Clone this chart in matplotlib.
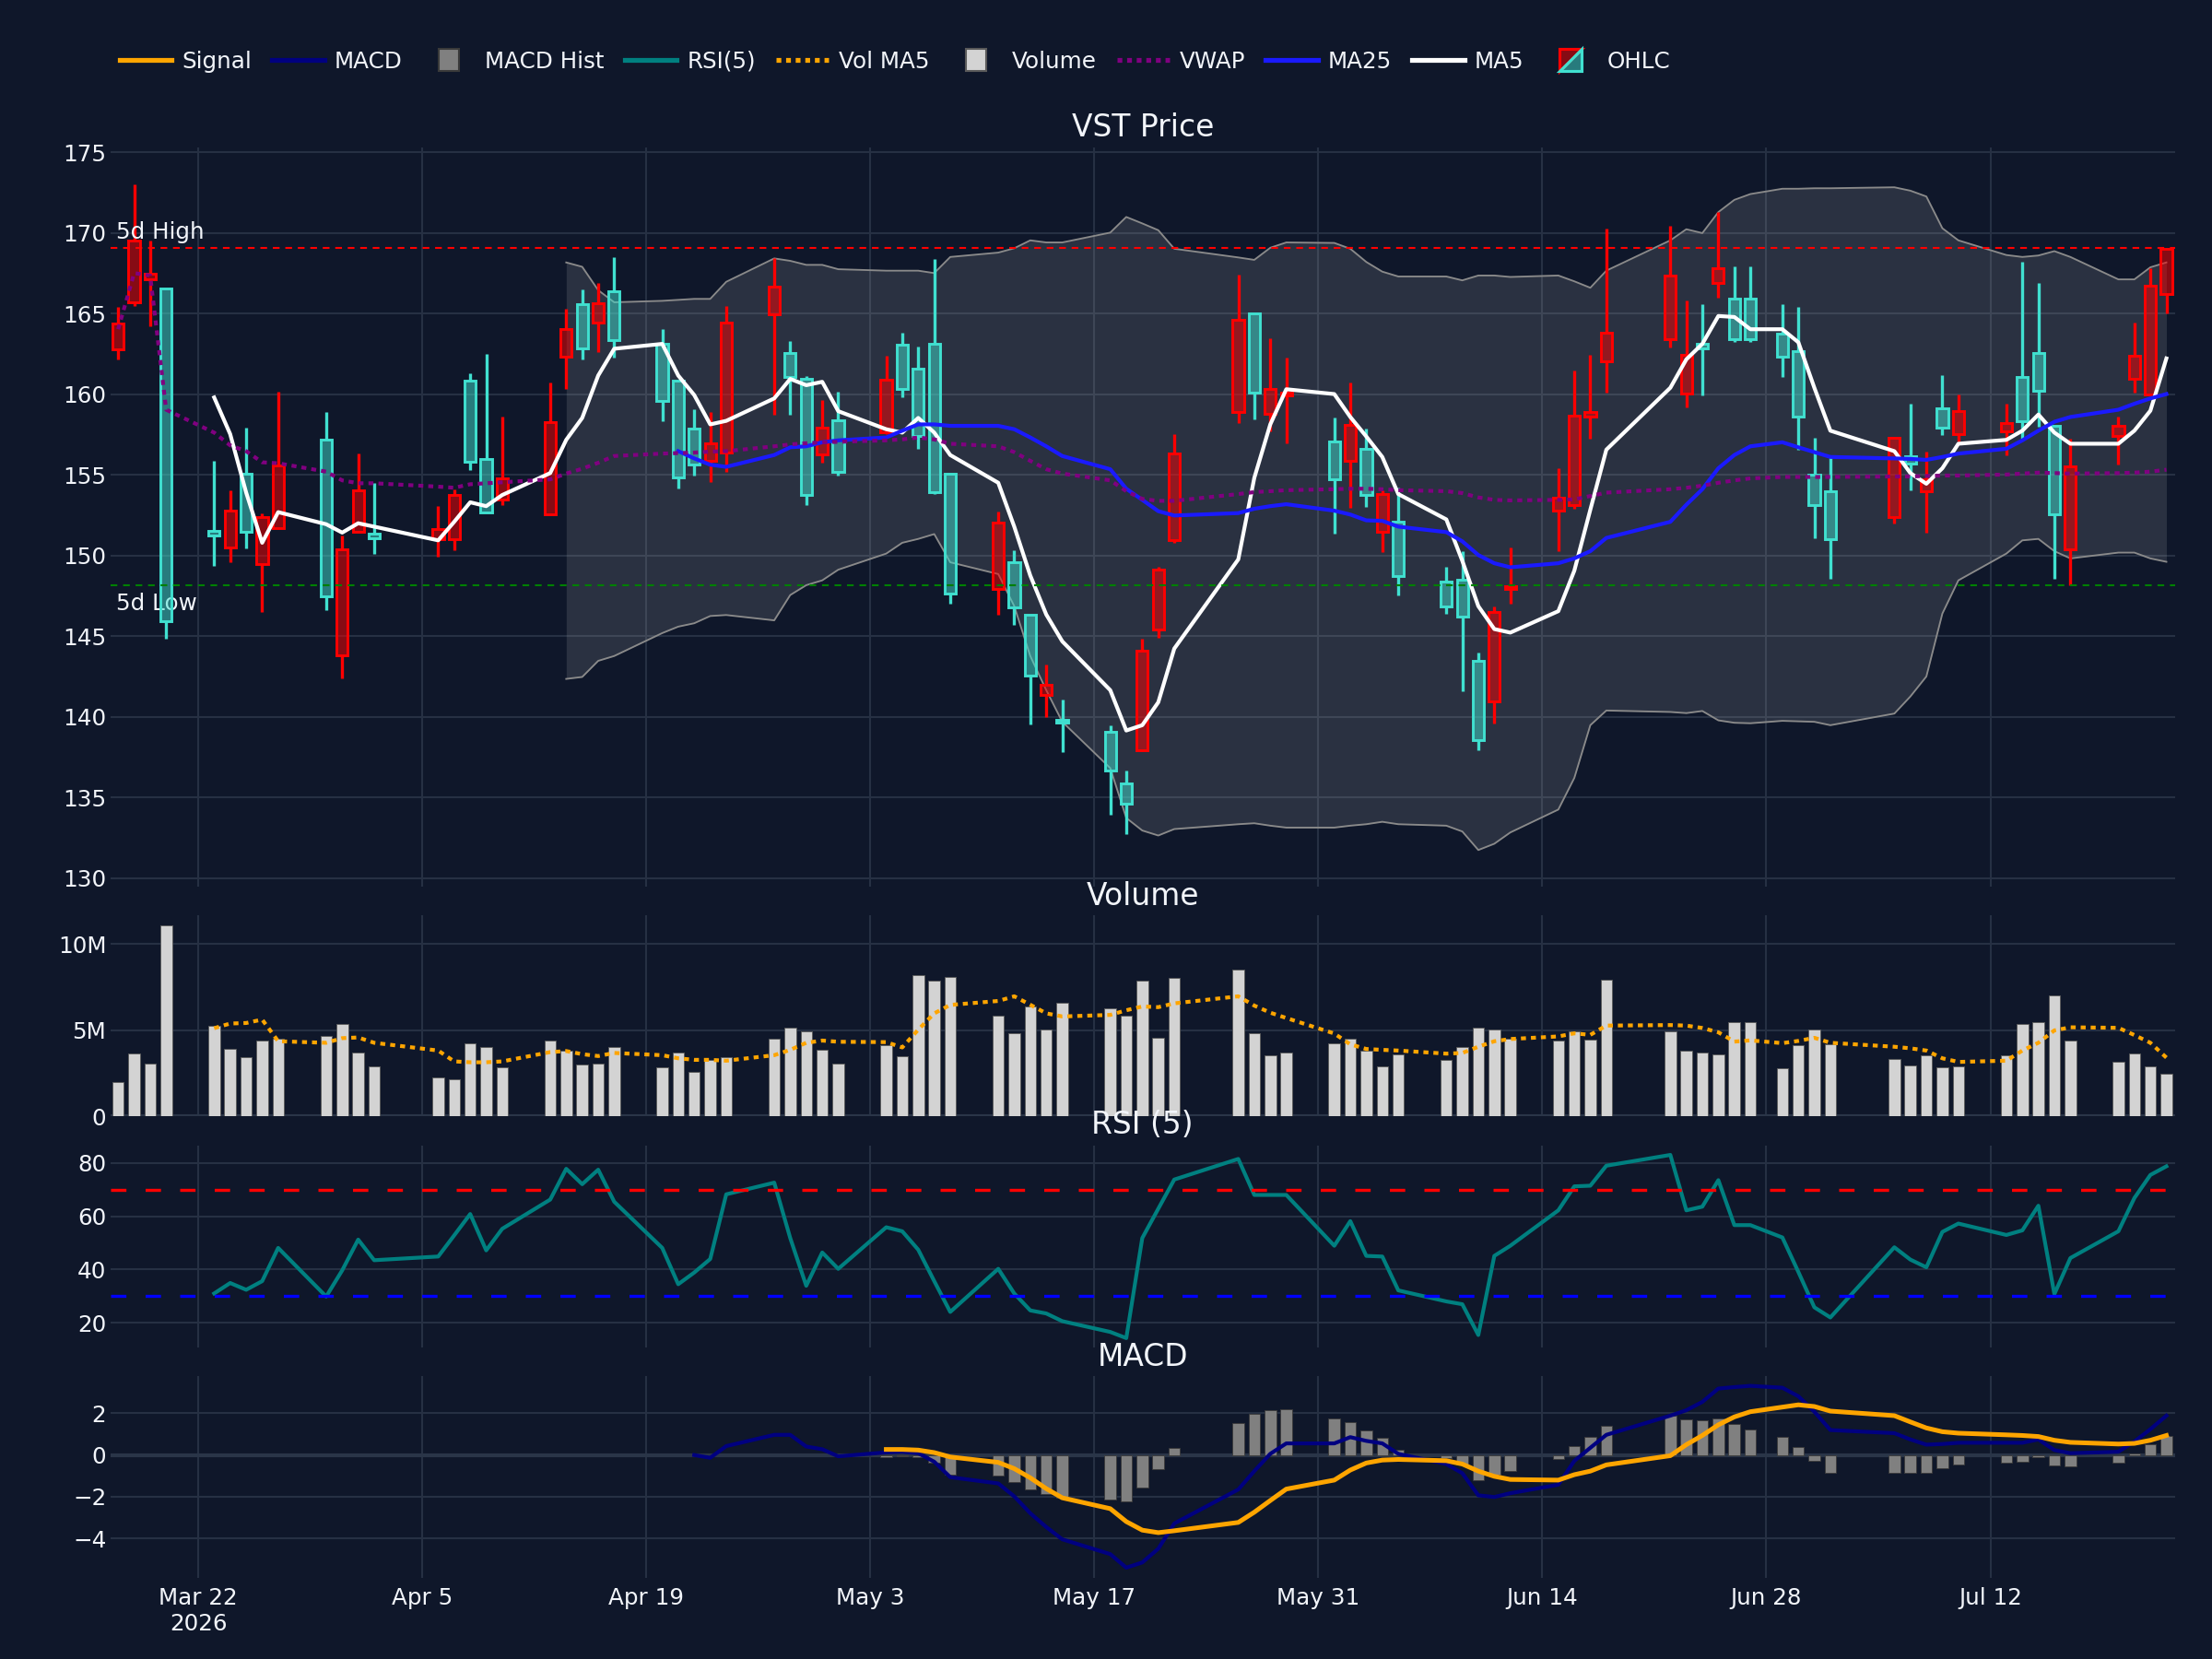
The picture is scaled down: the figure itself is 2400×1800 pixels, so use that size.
import numpy as np
import pandas as pd
import matplotlib
matplotlib.use("Agg")
import matplotlib.pyplot as plt
import matplotlib.dates as mdates
from matplotlib.colors import to_rgba
from matplotlib.patches import Rectangle, Polygon, Patch
from matplotlib.lines import Line2D
from matplotlib.legend_handler import HandlerBase

plt.rcParams["font.family"] = ["DejaVu Sans"]

BG = "#0f172a"
GRID = "#263043"
TXT = "#f2f5fa"
UP = "#ff0000"
DOWN = "#40e0d0"
FS = 11.8

# trading days shown on the chart
dates = pd.to_datetime([
    "2026-03-17", "2026-03-18", "2026-03-19", "2026-03-20",
    "2026-03-23", "2026-03-24", "2026-03-25", "2026-03-26", "2026-03-27",
    "2026-03-30", "2026-03-31", "2026-04-01", "2026-04-02",
    "2026-04-06", "2026-04-07", "2026-04-08", "2026-04-09", "2026-04-10",
    "2026-04-13", "2026-04-14", "2026-04-15", "2026-04-16", "2026-04-17",
    "2026-04-20", "2026-04-21", "2026-04-22", "2026-04-23", "2026-04-24",
    "2026-04-27", "2026-04-28", "2026-04-29", "2026-04-30", "2026-05-01",
    "2026-05-04", "2026-05-05", "2026-05-06", "2026-05-07", "2026-05-08",
    "2026-05-11", "2026-05-12", "2026-05-13", "2026-05-14", "2026-05-15",
    "2026-05-18", "2026-05-19", "2026-05-20", "2026-05-21", "2026-05-22",
    "2026-05-26", "2026-05-27", "2026-05-28", "2026-05-29",
    "2026-06-01", "2026-06-02", "2026-06-03", "2026-06-04", "2026-06-05",
    "2026-06-08", "2026-06-09", "2026-06-10", "2026-06-11", "2026-06-12",
    "2026-06-15", "2026-06-16", "2026-06-17", "2026-06-18",
    "2026-06-22", "2026-06-23", "2026-06-24", "2026-06-25", "2026-06-26", "2026-06-27",
    "2026-06-29", "2026-06-30", "2026-07-01", "2026-07-02",
    "2026-07-06", "2026-07-07", "2026-07-08", "2026-07-09", "2026-07-10",
    "2026-07-13", "2026-07-14", "2026-07-15", "2026-07-16", "2026-07-17",
    "2026-07-20", "2026-07-21", "2026-07-22", "2026-07-23",
])

opens = [162.75, 165.69, 167.11, 166.53,
         151.53, 150.48, 155.07, 149.45, 151.68,
         157.19, 143.82, 151.44, 151.32,
         151.02, 151.02, 160.82, 155.95, 153.44,
         152.56, 162.33, 165.59, 164.45, 166.35,
         163.11, 160.85, 157.88, 155.86, 156.37,
         164.93, 162.57, 160.94, 156.25, 158.37,
         157.61, 163.08, 161.57, 163.11, 155.04,
         147.93, 149.57, 146.33, 141.34, 139.83,
         139.04, 135.87, 137.92, 145.42, 150.93,
         158.88, 165.02, 158.79, 159.94,
         157.07, 155.86, 156.58, 151.47, 152.08,
         148.39, 148.48, 143.46, 140.95, 147.90,
         152.77, 153.14, 158.58, 162.06,
         163.42, 160.03, 163.11, 166.89, 165.90, 165.90,
         163.72, 162.66, 155.01, 153.98,
         152.38, 156.16, 153.95, 159.09, 157.52,
         157.67, 161.06, 162.57, 158.03, 150.35,
         157.43, 160.94, 160.00, 166.23]
highs = [165.41, 173.00, 169.53, 166.53,
         155.86, 154.04, 157.94, 152.62, 160.15,
         158.88, 151.23, 156.31, 154.50,
         153.05, 154.10, 161.27, 162.48, 158.58,
         160.70, 165.29, 166.50, 166.89, 168.47,
         164.02, 160.85, 159.06, 158.88, 165.44,
         168.41, 163.30, 161.09, 159.61, 160.12,
         162.36, 163.78, 162.96, 168.38, 155.04,
         152.71, 150.29, 146.33, 143.25, 141.04,
         139.47, 136.66, 144.82, 149.26, 157.52,
         167.41, 165.02, 163.48, 162.27,
         158.55, 160.73, 157.88, 154.04, 154.19,
         149.26, 150.26, 143.97, 146.85, 150.48,
         155.43, 161.45, 162.42, 170.28,
         170.46, 165.78, 165.59, 171.28, 167.89, 167.89,
         165.59, 165.38, 157.28, 156.22,
         157.28, 159.40, 156.46, 161.15, 160.00,
         159.40, 168.20, 166.89, 158.03, 157.22,
         158.58, 164.42, 167.80, 169.07]
lows = [162.15, 165.47, 164.23, 144.82,
        149.36, 149.57, 150.42, 146.51, 151.68,
        146.63, 142.37, 151.44, 150.11,
        149.93, 150.32, 155.31, 152.68, 153.14,
        152.56, 160.33, 162.15, 162.63, 162.27,
        158.34, 154.13, 154.95, 154.56, 155.16,
        158.73, 158.73, 153.11, 155.74, 154.95,
        157.50, 159.82, 156.61, 153.80, 147.03,
        146.33, 145.70, 139.53, 139.95, 137.83,
        133.90, 132.69, 137.87, 144.91, 150.78,
        158.22, 158.43, 157.67, 156.92,
        151.35, 152.92, 152.98, 150.20, 147.51,
        146.39, 141.55, 137.92, 139.59, 147.03,
        150.26, 152.89, 157.22, 160.09,
        162.90, 159.18, 159.94, 165.99, 163.21, 163.21,
        161.06, 156.52, 151.08, 148.54,
        151.99, 154.04, 151.38, 157.46, 157.07,
        156.22, 157.22, 157.97, 148.54, 148.15,
        155.62, 160.09, 160.00, 165.02]
closes = [164.39, 169.53, 167.44, 145.91,
          151.23, 152.80, 151.44, 152.35, 155.56,
          147.45, 150.35, 154.01, 151.08,
          151.62, 153.74, 155.80, 152.68, 154.80,
          158.25, 164.05, 162.81, 165.62, 163.33,
          159.55, 154.83, 155.65, 156.92, 164.42,
          166.65, 161.06, 153.74, 157.91, 155.16,
          160.91, 160.30, 157.40, 153.89, 147.63,
          152.05, 146.79, 142.55, 141.95, 139.65,
          136.65, 134.60, 144.06, 149.14, 156.31,
          164.63, 160.09, 160.30, 160.09,
          154.71, 158.07, 153.74, 153.80, 148.69,
          146.85, 146.18, 138.53, 146.48, 148.06,
          153.59, 158.67, 158.88, 163.78,
          167.35, 162.45, 162.81, 167.80, 163.42, 163.42,
          162.30, 158.58, 153.14, 151.02,
          157.28, 155.70, 154.71, 157.91, 158.94,
          158.19, 158.34, 160.18, 152.53, 155.50,
          158.03, 162.36, 166.74, 169.01]

# overlays (they begin later than the candles)
ma5 = [159.79, 157.52, 153.89, 150.78, 152.68,
       151.93, 151.41, 151.99, 151.78,
       150.93, 152.08, 153.29, 153.05, 153.74,
       155.10, 157.16, 158.52, 161.15, 162.81,
       163.11, 161.15, 159.94, 158.12, 158.34,
       159.73, 160.94, 160.55, 160.76, 158.94,
       157.82, 157.61, 158.52, 157.61, 156.22,
       154.50, 151.78, 148.75, 146.33, 144.67,
       141.64, 139.14, 139.47, 140.89, 144.22,
       149.75, 154.80, 158.12, 160.30,
       160.00, 158.58, 157.37, 156.10, 153.80,
       152.23, 149.66, 146.85, 145.43, 145.21,
       146.54, 149.05, 152.83, 156.55,
       160.39, 162.15, 163.11, 164.84, 164.78, 164.02,
       164.02, 163.21, 160.39, 157.73,
       156.46, 155.10, 154.44, 155.40, 156.92,
       157.16, 157.73, 158.73, 157.61, 156.92,
       156.92, 157.73, 158.97, 162.21]
ma25 = [156.46, 156.01, 155.62, 155.49,
        156.22, 156.70, 156.76, 157.01, 157.13,
        157.31, 157.73, 158.12, 158.12, 158.03,
        158.03, 157.82, 157.31, 156.76, 156.16,
        155.34, 154.13, 153.44, 152.74, 152.47,
        152.62, 152.89, 153.05, 153.17,
        152.77, 152.53, 152.17, 152.14, 151.78,
        151.44, 150.87, 150.02, 149.51, 149.26,
        149.51, 149.81, 150.26, 151.08,
        152.08, 153.14, 154.10, 155.40, 156.22, 156.76,
        157.01, 156.70, 156.40, 156.10,
        156.01, 155.98, 155.92, 156.10, 156.31,
        156.61, 157.13, 157.73, 158.28, 158.58,
        159.03, 159.40, 159.73, 160.00]
bb_upper = [168.16, 167.89, 166.44, 165.69,
            165.78, 165.84, 165.90, 165.90, 166.96,
            168.41, 168.26, 168.01, 168.01, 167.74,
            167.65, 167.65, 167.65, 167.50, 168.50,
            168.77, 169.04, 169.53, 169.40, 169.40,
            170.01, 170.98, 170.58, 170.16, 169.01,
            168.47, 168.32, 169.07, 169.40,
            169.37, 169.01, 168.19, 167.59, 167.29,
            167.29, 167.05, 167.35, 167.35, 167.26,
            167.35, 166.99, 166.59, 167.65,
            169.53, 170.22, 169.98, 171.28, 172.04, 172.40,
            172.73, 172.73, 172.76, 172.76,
            172.82, 172.61, 172.25, 170.28, 169.53,
            168.62, 168.50, 168.59, 168.86, 168.50,
            167.11, 167.11, 167.86, 168.16]
bb_lower = [142.34, 142.46, 143.46, 143.76,
            145.18, 145.58, 145.79, 146.24, 146.30,
            145.97, 147.54, 148.15, 148.45, 149.11,
            150.11, 150.78, 151.02, 151.32, 149.57,
            148.84, 146.85, 143.76, 141.64, 139.68,
            136.81, 133.72, 132.94, 132.63, 133.03,
            133.33, 133.39, 133.24, 133.12,
            133.12, 133.24, 133.33, 133.48, 133.33,
            133.24, 132.88, 131.73, 132.12, 132.82,
            134.24, 136.20, 139.47, 140.38,
            140.29, 140.22, 140.35, 139.77, 139.62, 139.59,
            139.74, 139.71, 139.68, 139.47,
            140.19, 141.25, 142.49, 146.39, 148.45,
            150.11, 150.93, 151.02, 150.26, 149.81,
            150.17, 150.17, 149.81, 149.60]
vwap = [164.02, 167.50, 167.35, 159.03,
        157.61, 156.82, 156.46, 155.77, 155.71,
        155.19, 154.65, 154.47, 154.47,
        154.26, 154.19, 154.41, 154.47, 154.53,
        154.71, 155.07, 155.37, 155.74, 156.16,
        156.31, 156.34, 156.37, 156.43, 156.46,
        156.76, 156.88, 156.95, 157.01, 157.04,
        157.13, 157.19, 157.31, 157.19, 156.92,
        156.76, 156.40, 155.86, 155.34, 155.07,
        154.65, 153.98, 153.50, 153.38, 153.38,
        153.80, 153.92, 153.98, 154.04,
        154.10, 154.13, 154.13, 154.10, 154.04,
        153.98, 153.86, 153.59, 153.44, 153.41,
        153.44, 153.47, 153.68, 153.89,
        154.10, 154.19, 154.32, 154.50, 154.65, 154.77,
        154.86, 154.86, 154.86, 154.86,
        154.89, 154.89, 154.92, 154.95, 154.95,
        155.01, 155.07, 155.13, 155.10, 155.07,
        155.10, 155.13, 155.19, 155.31]
high_5d = 169.07
low_5d = 148.15

# volume in millions
volume_m = [1.98, 3.63, 3.04, 11.10,
            5.27, 3.92, 3.44, 4.37, 4.50,
            4.68, 5.36, 3.71, 2.88,
            2.23, 2.14, 4.24, 4.03, 2.82,
            4.39, 3.78, 3.02, 3.06, 4.03,
            2.84, 3.69, 2.57, 3.27, 3.42,
            4.51, 5.14, 4.93, 3.88, 3.06,
            4.14, 3.49, 8.18, 7.86, 8.06,
            5.86, 4.84, 6.35, 5.05, 6.58,
            6.28, 5.81, 7.86, 4.57, 8.02,
            8.49, 4.84, 3.53, 3.71,
            4.24, 4.48, 3.81, 2.90, 3.60,
            3.26, 3.99, 5.14, 5.05, 4.50,
            4.40, 4.90, 4.44, 7.93,
            4.92, 3.81, 3.67, 3.58, 5.44, 5.44,
            2.76, 4.14, 5.04, 4.19,
            3.31, 2.93, 3.53, 2.82, 2.90,
            3.53, 5.36, 5.45, 7.03, 4.37,
            3.17, 3.65, 2.88, 2.45]
vol_ma5_m = [5.11, 5.38, 5.41, 5.61, 4.35,
             4.26, 4.53, 4.57, 4.26,
             3.81, 3.18, 3.13, 3.13, 3.18,
             3.72, 3.78, 3.60, 3.49, 3.67,
             3.54, 3.36, 3.27, 3.27, 3.22,
             3.54, 3.85, 4.26, 4.39, 4.32,
             4.30, 3.99, 5.02, 5.97, 6.46,
             6.69, 6.96, 6.47, 5.97, 5.79,
             5.88, 6.15, 6.37, 6.33, 6.55,
             6.96, 6.42, 6.01, 5.70,
             4.80, 4.17, 3.90, 3.85, 3.81,
             3.63, 3.67, 4.03, 4.35, 4.48,
             4.63, 4.81, 4.72, 5.26,
             5.29, 5.26, 5.12, 4.87, 4.33, 4.40,
             4.24, 4.37, 4.55, 4.26,
             4.03, 3.94, 3.81, 3.36, 3.15,
             3.22, 3.81, 4.26, 4.98, 5.16,
             5.13, 4.71, 4.26, 3.40]

rsi5 = [30.98, 34.91, 32.37, 35.61, 48.09,
        29.83, 39.65, 51.21, 43.47,
        44.86, 52.80, 60.81, 47.17, 55.26,
        66.24, 77.80, 72.02, 77.46, 65.43,
        48.09, 34.45, 38.84, 43.93, 68.21,
        72.60, 51.79, 33.87, 46.36, 40.23,
        55.84, 54.34, 47.40, 35.61, 24.05,
        40.23, 30.98, 24.62, 23.47, 20.58,
        16.53, 14.22, 51.79, 62.80, 73.76,
        81.50, 67.98, 67.98, 67.98,
        48.90, 58.15, 45.09, 44.86, 32.14,
        28.00, 26.94, 15.38, 45.09, 48.90,
        62.20, 71.21, 71.45, 78.96,
        83.01, 62.20, 63.58, 73.53, 56.65, 56.65,
        52.02, 39.08, 25.78, 21.97,
        48.32, 43.70, 40.81, 54.10, 57.23,
        52.95, 54.68, 63.93, 30.75, 44.28,
        54.34, 66.82, 75.49, 78.73]

macd = [0.00, -0.13, 0.43,
        0.97, 0.97, 0.41, 0.28, -0.06,
        0.13, 0.16, 0.09, -0.32, -1.06,
        -1.36, -1.98, -2.79, -3.45, -4.04,
        -4.75, -5.40, -5.15, -4.49, -3.28,
        -1.65, -0.77, 0.06, 0.56,
        0.56, 0.86, 0.68, 0.56, 0.06,
        -0.43, -0.87, -1.93, -2.01, -1.83,
        -1.42, -0.28, 0.35, 0.97,
        1.89, 2.15, 2.55, 3.19, 3.26, 3.32,
        3.23, 2.82, 2.08, 1.20,
        1.05, 0.75, 0.50, 0.53, 0.59,
        0.59, 0.59, 0.75, 0.24, 0.09,
        0.16, 0.65, 1.24, 1.89]
signal = [0.27, 0.27, 0.24, 0.12, -0.09,
          -0.35, -0.65, -1.09, -1.61, -2.05,
          -2.57, -3.19, -3.60, -3.72, -3.63,
          -3.23, -2.74, -2.18, -1.63,
          -1.20, -0.72, -0.38, -0.24, -0.21,
          -0.27, -0.43, -0.77, -1.02, -1.17,
          -1.20, -0.94, -0.77, -0.47,
          -0.03, 0.50, 0.94, 1.45, 1.83, 2.08,
          2.30, 2.41, 2.33, 2.11,
          1.89, 1.59, 1.30, 1.12, 1.05,
          0.97, 0.94, 0.89, 0.71, 0.61,
          0.53, 0.56, 0.71, 0.94]
macd_hist = [-0.09, -0.05, -0.08, -0.38, -0.95,
             -0.97, -1.28, -1.65, -1.86, -2.05,
             -2.15, -2.24, -1.56, -0.69, 0.34,
             1.54, 1.98, 2.15, 2.20,
             1.76, 1.59, 1.18, 0.83, 0.24,
             -0.16, -0.47, -1.20, -0.92, -0.75,
             -0.21, 0.43, 0.87, 1.42,
             1.89, 1.72, 1.67, 1.77, 1.49, 1.23,
             0.87, 0.37, -0.28, -0.87,
             -0.83, -0.83, -0.85, -0.62, -0.47,
             -0.38, -0.33, -0.12, -0.48, -0.53,
             -0.36, 0.06, 0.50, 0.93]

tick_dates = pd.to_datetime(["2026-03-22", "2026-04-05", "2026-04-19", "2026-05-03",
                             "2026-05-17", "2026-05-31", "2026-06-14", "2026-06-28",
                             "2026-07-12"])
tick_labels = ["Mar 22\n2026", "Apr 5", "Apr 19", "May 3", "May 17", "May 31",
               "Jun 14", "Jun 28", "Jul 12"]


def pad(vals):
    # overlays start after a warm-up window, fill the front with gaps
    return np.r_[np.full(len(dates) - len(vals), np.nan), np.asarray(vals, float)]


class BoxHandler(HandlerBase):
    def __init__(self, fc, ec):
        super().__init__()
        self.fc, self.ec = fc, ec

    def create_artists(self, legend, orig_handle, xd, yd, width, height, fontsize, trans):
        bw, bh = 0.9 * fontsize, 1.0 * fontsize
        cx, cy = -xd + width / 2, -yd + height / 2
        r = Rectangle((cx - bw / 2, cy - bh / 2), bw, bh, facecolor=self.fc,
                      edgecolor=self.ec, lw=1.0, transform=trans)
        return [r]


class CandleHandler(HandlerBase):
    def create_artists(self, legend, orig_handle, xd, yd, width, height, fontsize, trans):
        s = 1.0 * fontsize
        cx, cy = -xd + width / 2, -yd + height / 2
        x0, x1, y0, y1 = cx - s / 2, cx + s / 2, cy - s / 2, cy + s / 2
        p1 = Polygon([(x0, y0), (x0, y1), (x1, y1)], closed=True,
                     facecolor=to_rgba(UP, 0.5), edgecolor=UP, lw=1.5, transform=trans)
        p2 = Polygon([(x0, y0), (x1, y0), (x1, y1)], closed=True,
                     facecolor=to_rgba(DOWN, 0.5), edgecolor=DOWN, lw=1.5, transform=trans)
        return [p1, p2]


x = mdates.date2num(dates)
xt = mdates.date2num(tick_dates)
xlim = (mdates.date2num(pd.Timestamp("2026-03-16 12:00")),
        mdates.date2num(pd.Timestamp("2026-07-23 13:00")))

fig = plt.figure(figsize=(16, 12), dpi=150, facecolor=BG)
L, W = 0.0498, 0.9335
ax_p = fig.add_axes([L, 0.46556, W, 0.44556])
ax_v = fig.add_axes([L, 0.32722, W, 0.12111])
ax_r = fig.add_axes([L, 0.18778, W, 0.12167])
ax_m = fig.add_axes([L, 0.04889, W, 0.12167])

for ax in (ax_p, ax_v, ax_r, ax_m):
    ax.set_facecolor(BG)
    for s in ax.spines.values():
        s.set_visible(False)
    ax.set_xlim(*xlim)
    ax.set_xticks(xt)
    ax.grid(True, color=GRID, lw=1.0, zorder=0)
    ax.set_axisbelow(True)
    ax.tick_params(length=0, labelsize=FS, labelcolor=TXT, pad=2)
    if ax is not ax_m:
        ax.tick_params(labelbottom=False)
ax_m.set_xticklabels(tick_labels)
ax_m.tick_params(axis="x", pad=5)

# ---- price panel
i0 = len(dates) - len(bb_upper)
ax_p.fill_between(x[i0:], bb_lower, bb_upper, color="#c8c8c8", alpha=0.15, lw=0, zorder=1)
ax_p.plot(x[i0:], bb_upper, color="#8a8a8a", lw=0.9, zorder=2)
ax_p.plot(x[i0:], bb_lower, color="#8a8a8a", lw=0.9, zorder=2)

bw = 0.7
for xi, o, h, l, c in zip(x, opens, highs, lows, closes):
    col = UP if c > o else DOWN
    top, bot = max(o, c), min(o, c)
    ax_p.vlines(xi, top, h, color=col, lw=1.6, zorder=3)
    ax_p.vlines(xi, l, bot, color=col, lw=1.6, zorder=3)
    ax_p.add_patch(Rectangle((xi - bw / 2, bot), bw, max(top - bot, 0.08),
                             facecolor=to_rgba(col, 0.5), edgecolor=col, lw=1.4, zorder=4))

ax_p.plot(x, pad(ma5), color="white", lw=2.0, zorder=5)
ax_p.plot(x, pad(ma25), color="#1a1aff", lw=2.0, zorder=5)
ax_p.plot(x, vwap, color="purple", lw=2.0, ls=(0, (1.3, 1.3)), zorder=5)

ax_p.axhline(high_5d, color="red", lw=1.0, ls=(0, (3.5, 3)), zorder=6)
ax_p.axhline(low_5d, color="green", lw=1.0, ls=(0, (3.5, 3)), zorder=6)
tr = ax_p.get_yaxis_transform()
ax_p.annotate("5d High", (0.003, high_5d), xycoords=tr, xytext=(0, 2.5),
              textcoords="offset points", ha="left", va="bottom", color=TXT, fontsize=FS)
ax_p.annotate("5d Low", (0.003, low_5d), xycoords=tr, xytext=(0, -4),
              textcoords="offset points", ha="left", va="top", color=TXT, fontsize=FS)

ax_p.set_ylim(129.46, 175.29)
ax_p.set_yticks(np.arange(130, 176, 5))

# ---- volume panel
ax_v.bar(x, volume_m, width=0.72, color="#d3d3d3", edgecolor="#5a5a5a", lw=0.4, zorder=2)
ax_v.plot(x, pad(vol_ma5_m), color="orange", lw=2.0, ls=(0, (1.3, 1.3)), zorder=3)
ax_v.axhline(0, color="#2a3548", lw=2.0, zorder=1)
ax_v.set_ylim(0, 11.67)
ax_v.set_yticks([0, 5, 10])
ax_v.set_yticklabels(["0", "5M", "10M"])

# ---- RSI panel
ax_r.plot(x, pad(rsi5), color="teal", lw=2.0, zorder=3)
ax_r.axhline(70, color="red", lw=1.6, ls=(0, (5, 6.25)), zorder=4)
ax_r.axhline(30, color="blue", lw=1.6, ls=(0, (5, 6.25)), zorder=4)
ax_r.set_ylim(10.7, 86.5)
ax_r.set_yticks([20, 40, 60, 80])

# ---- MACD panel
ax_m.axhline(0, color="#2a3548", lw=2.0, zorder=1)
ax_m.bar(x, pad(macd_hist), width=0.72, color="#808080", edgecolor="#3a3a3a", lw=0.4, zorder=2)
ax_m.plot(x, pad(macd), color="navy", lw=2.0, zorder=3)
ax_m.plot(x, pad(signal), color="orange", lw=2.4, zorder=4)
ax_m.set_ylim(-5.89, 3.79)
ax_m.set_yticks([-4, -2, 0, 2])
ax_m.set_yticklabels(["\u22124", "\u22122", "0", "2"])

# ---- subplot titles
xc = L + W / 2
for label, ypix in [("VST Price", 138), ("Volume", 972), ("RSI (5)", 1221), ("MACD", 1472)]:
    fig.text(xc, 1 - ypix / 1800, label, ha="center", va="center", color=TXT, fontsize=15.8)

# ---- legend
h_signal = Line2D([], [], color="orange", lw=2.5)
h_macd = Line2D([], [], color="navy", lw=2.5)
h_hist = Patch(facecolor="#808080")
h_rsi = Line2D([], [], color="teal", lw=2.5)
h_volma = Line2D([], [], color="orange", lw=2.5, ls=(0, (1, 1)))
h_vol = Patch(facecolor="#d3d3d3")
h_vwap = Line2D([], [], color="purple", lw=2.5, ls=(0, (1, 1)))
h_ma25 = Line2D([], [], color="#1a1aff", lw=2.5)
h_ma5 = Line2D([], [], color="white", lw=2.5)
h_ohlc = Patch(facecolor=UP)
handles = [h_signal, h_macd, h_hist, h_rsi, h_volma, h_vol, h_vwap, h_ma25, h_ma5, h_ohlc]
labels = ["Signal", "MACD", "MACD Hist", "RSI(5)", "Vol MA5", "Volume", "VWAP", "MA25", "MA5", "OHLC"]
fig.legend(handles, labels, loc="center left", bbox_to_anchor=(0.054, 0.963), ncol=10,
           frameon=False, fontsize=FS, labelcolor=TXT, handlelength=2.3,
           handletextpad=0.45, columnspacing=0.9, borderpad=0, borderaxespad=0,
           handler_map={h_hist: BoxHandler("#808080", "#3a3a3a"),
                        h_vol: BoxHandler("#d3d3d3", "#5a5a5a"),
                        h_ohlc: CandleHandler()})

fig.savefig("out.png", dpi=150, facecolor=BG)
